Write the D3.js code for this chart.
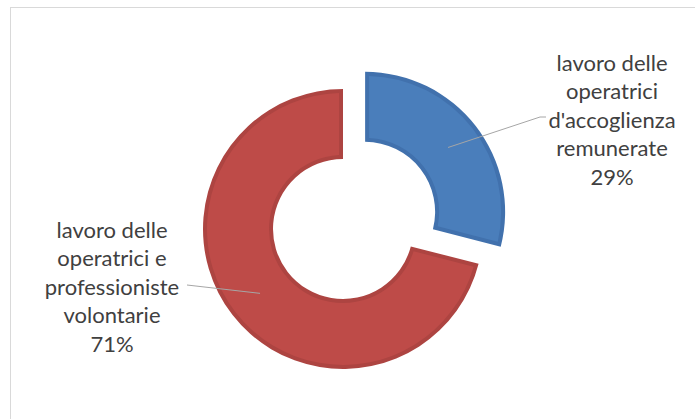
<!DOCTYPE html>
<html>
<head>
<meta charset="utf-8">
<script src="https://cdn.jsdelivr.net/npm/d3@7"></script>
<style>
  body { margin: 0; background: #fff; }
  text { font-family: Lato, "Open Sans", sans-serif; fill: #404040; }
</style>
</head>
<body>
<div id="chart"></div>
<script>
// chart data
var labels = [
    ["lavoro delle", "operatrici", "d'accoglienza", "remunerate"],
    ["lavoro delle", "operatrici e", "professioniste", "volontarie"]
];
var values = [29, 71];
var fills = ["#4A7EBB", "#BE4B48"];
var edges = ["#4171AD", "#AD4441"];

var width = 695;
var height = 419;

var svg = d3.select("#chart")
    .append("svg")
    .attr("width", width)
    .attr("height", height);

// chart area border (runs off the right and bottom)
svg.append("rect")
    .attr("x", 10.5)
    .attr("y", 7.5)
    .attr("width", 700)
    .attr("height", 420)
    .style("fill", "#fff")
    .style("stroke", "#d9d9d9");

var cx = 343, cy = 229;
var outerR = 140, innerR = 70;
var explode = 28; // only first slice pulled out

var pie = d3.pie().sort(null).value(d => d);
var arcs = pie(values);

var arc = d3.arc().innerRadius(innerR).outerRadius(outerR);
var arcInner = d3.arc()
    .innerRadius(innerR + 4)
    .outerRadius(outerR - 4)
    .padRadius(100)
    .padAngle(0.08);

var slices = svg.selectAll("g.slice")
    .data(arcs)
    .enter().append("g")
    .attr("class", "slice")
    .attr("transform", function(d, i) {
        var off = i === 0 ? explode : 0;
        var mid = (d.startAngle + d.endAngle) / 2;
        return "translate(" + (cx + off * Math.sin(mid)) + "," + (cy - off * Math.cos(mid)) + ")";
    });

slices.append("path")
    .attr("d", arc)
    .style("fill", (d, i) => edges[i]);

slices.append("path")
    .attr("d", arcInner)
    .style("fill", (d, i) => fills[i]);

// labels
var labelPos = [
    { x: 612, y: 63, lineEnd: [540, 117], lineMid: [546, 117] },
    { x: 112, y: 230, lineEnd: [187, 285], lineMid: [187, 285] }
];
var lineH = 28.5;

arcs.forEach(function(d, i) {
    var off = i === 0 ? explode : 0;
    var mid = (d.startAngle + d.endAngle) / 2;
    var c = arc.centroid(d);
    var sx = cx + off * Math.sin(mid) + c[0];
    var sy = cy - off * Math.cos(mid) + c[1];
    var p = labelPos[i];

    svg.append("path")
        .attr("d", "M" + sx + "," + sy + "L" + p.lineEnd[0] + "," + p.lineEnd[1] + "L" + p.lineMid[0] + "," + p.lineMid[1])
        .style("fill", "none")
        .style("stroke", "#a6a6a6")
        .style("stroke-width", 1);

    var pct = Math.round(d.value / d3.sum(values) * 100) + "%";
    var lines = labels[i].concat([pct]);
    var t = svg.append("text")
        .attr("text-anchor", "middle")
        .style("font-size", "22px");
    lines.forEach(function(s, k) {
        t.append("tspan")
            .attr("x", p.x)
            .attr("y", p.y + k * lineH)
            .attr("dy", "0.35em")
            .text(s);
    });
});
</script>
</body>
</html>
